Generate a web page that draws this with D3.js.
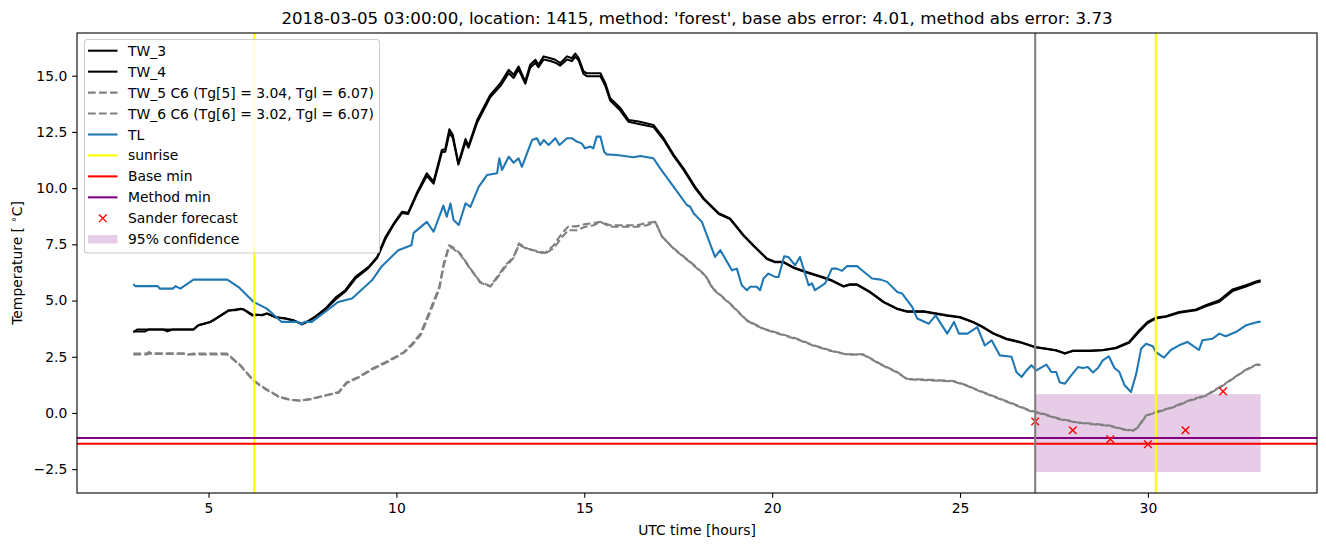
<!DOCTYPE html>
<html>
<head>
<meta charset="utf-8">
<script src="https://cdn.jsdelivr.net/npm/d3@7"></script>
<style>
  body { margin: 0; background: #fff; }
  svg text { font-family: "DejaVu Sans", sans-serif; }
</style>
</head>
<body>
<svg id="chart1" width="1326" height="547"></svg>
<script>
// [hour, temperature] pairs
let tw3 = [[3.0,3.6],[3.1,3.71],[4.6,3.71],[4.73,3.9],[5.05,4.05],[5.19,4.2],[5.54,4.57],[5.72,4.57],[5.85,4.64],[5.94,4.6],[6.16,4.34],[6.43,4.37],[6.56,4.42],[6.78,4.27],[7.05,4.2],[7.27,4.12],[7.49,3.94],[7.62,4.05],[7.85,4.3],[8.11,4.64],[8.38,5.13],[8.64,5.46],[8.91,6.05],[9.26,6.5],[9.49,6.94],[9.71,7.83],[9.93,8.43],[10.15,8.95],[10.31,8.9],[10.54,9.77],[10.81,10.66],[10.99,10.29],[11.21,11.7],[11.3,11.73],[11.41,12.62],[11.5,12.37],[11.65,11.1],[11.84,12.18],[11.92,11.88],[12.15,13.03],[12.5,14.15],[12.77,14.67],[12.99,15.26],[13.12,15.04],[13.25,15.41],[13.43,14.74],[13.56,15.49],[13.7,15.71],[13.78,15.49],[13.92,15.86],[14.1,15.78],[14.23,15.71],[14.36,15.56],[14.54,15.86],[14.67,15.78],[14.76,15.98],[14.85,15.78],[14.98,15.19],[15.07,15.11],[15.43,15.11],[15.56,14.67],[15.69,14.0],[15.96,13.56],[16.18,13.03],[16.45,12.96],[16.84,12.81],[17.11,12.22],[17.38,11.48],[17.64,10.88],[17.95,10.06],[18.18,9.54],[18.58,8.88],[18.88,8.65],[19.24,7.91],[19.5,7.46],[19.86,6.87],[20.08,6.72],[20.3,6.72],[20.57,6.47],[20.92,6.27],[21.28,6.08],[21.59,5.9],[21.9,5.64],[22.07,5.72],[22.26,5.72],[22.61,5.38],[22.97,4.94],[23.33,4.64],[23.59,4.52],[24.04,4.52],[24.3,4.45],[24.66,4.34],[25.0,4.27],[25.35,4.05],[25.62,3.82],[25.88,3.55],[26.24,3.3],[26.6,3.16],[27.0,2.93],[27.3,2.86],[27.56,2.79],[27.79,2.64],[28.0,2.77],[28.46,2.77],[28.8,2.8],[29.15,2.9],[29.5,3.16],[29.77,3.68],[29.99,4.05],[30.21,4.24],[30.48,4.3],[30.83,4.49],[31.28,4.6],[31.54,4.79],[31.9,5.01],[32.25,5.49],[32.61,5.68],[32.88,5.85],[33.0,5.9]];

let tw4 = [[3.0,3.62],[3.3,3.62],[3.4,3.71],[3.8,3.71],[3.9,3.63],[4.05,3.71],[4.6,3.71],[4.73,3.9],[5.05,4.05],[5.19,4.18],[5.54,4.55],[5.72,4.6],[5.85,4.62],[5.94,4.6],[6.16,4.38],[6.43,4.35],[6.56,4.42],[6.78,4.25],[7.05,4.2],[7.27,4.1],[7.49,3.97],[7.62,4.05],[7.85,4.28],[8.11,4.6],[8.38,5.05],[8.64,5.4],[8.91,5.98],[9.26,6.45],[9.49,6.9],[9.71,7.75],[9.93,8.38],[10.15,8.9],[10.31,8.85],[10.54,9.7],[10.81,10.55],[10.99,10.2],[11.21,11.6],[11.3,11.62],[11.41,12.45],[11.5,12.25],[11.65,11.05],[11.84,12.05],[11.92,11.8],[12.15,12.92],[12.5,14.05],[12.77,14.55],[12.99,15.12],[13.12,14.9],[13.25,15.28],[13.43,14.65],[13.56,15.36],[13.7,15.58],[13.78,15.38],[13.92,15.72],[14.1,15.65],[14.23,15.58],[14.36,15.45],[14.54,15.72],[14.67,15.65],[14.76,15.85],[14.85,15.68],[14.98,15.08],[15.07,14.98],[15.43,14.98],[15.56,14.55],[15.69,13.9],[15.96,13.45],[16.18,12.95],[16.45,12.85],[16.84,12.72],[17.11,12.15],[17.38,11.42],[17.64,10.82],[17.95,10.0],[18.18,9.5],[18.58,8.85],[18.88,8.62],[19.24,7.88],[19.5,7.44],[19.86,6.85],[20.08,6.7],[20.3,6.7],[20.57,6.45],[20.92,6.25],[21.28,6.06],[21.59,5.88],[21.9,5.62],[22.07,5.7],[22.26,5.7],[22.61,5.36],[22.97,4.92],[23.33,4.62],[23.59,4.5],[24.04,4.5],[24.3,4.43],[24.66,4.32],[25.0,4.25],[25.35,4.03],[25.62,3.8],[25.88,3.53],[26.24,3.28],[26.6,3.14],[27.0,2.92],[27.3,2.85],[27.56,2.78],[27.79,2.66],[28.0,2.76],[28.46,2.76],[28.8,2.79],[29.15,2.88],[29.5,3.12],[29.77,3.62],[29.99,4.0],[30.21,4.2],[30.48,4.28],[30.83,4.46],[31.28,4.57],[31.54,4.75],[31.9,4.95],[32.25,5.42],[32.61,5.62],[32.88,5.8],[33.0,5.85]];

let tw5 = [[3.0,2.64],[3.35,2.64],[3.41,2.71],[3.5,2.64],[4.4,2.64],[4.45,2.6],[4.6,2.64],[5.5,2.64],[5.85,2.12],[6.2,1.45],[6.52,1.08],[6.91,0.7],[7.22,0.59],[7.45,0.55],[7.76,0.64],[8.11,0.78],[8.46,0.93],[8.68,1.37],[8.99,1.6],[9.35,1.97],[9.71,2.26],[9.97,2.49],[10.2,2.71],[10.42,3.08],[10.64,3.53],[10.77,4.05],[10.95,4.8],[11.14,5.6],[11.26,6.65],[11.4,7.46],[11.48,7.4],[11.7,7.09],[11.97,6.42],[12.23,5.83],[12.5,5.64],[12.68,6.05],[12.9,6.57],[13.12,6.94],[13.26,7.54],[13.48,7.32],[13.74,7.17],[13.96,7.08],[14.18,7.32],[14.41,7.83],[14.58,8.13],[14.8,8.13],[15.03,8.28],[15.25,8.35],[15.43,8.5],[15.69,8.28],[16.05,8.28],[16.4,8.28],[16.67,8.35],[16.89,8.5],[17.07,7.83],[17.38,7.32],[17.82,6.72],[18.22,6.13],[18.43,5.53],[18.88,4.87],[19.33,4.12],[19.77,3.75],[20.21,3.53],[20.66,3.3],[21.1,3.01],[21.54,2.79],[21.99,2.61],[22.43,2.61],[22.87,2.19],[23.33,1.82],[23.59,1.52],[24.21,1.47],[24.47,1.45],[24.82,1.42],[25.18,1.23],[25.53,0.98],[25.97,0.7],[26.41,0.41],[26.86,0.11],[27.22,-0.04],[27.65,-0.26],[28.1,-0.41],[28.54,-0.48],[28.98,-0.56],[29.33,-0.71],[29.6,-0.78],[29.73,-0.63],[29.95,-0.11],[30.21,0.04],[30.66,0.26],[31.1,0.56],[31.54,0.78],[31.99,1.23],[32.34,1.63],[32.61,1.93],[32.88,2.15],[33.0,2.15]];

let tw6 = [[3.0,2.6],[3.35,2.6],[3.45,2.64],[4.4,2.64],[4.5,2.6],[5.5,2.6],[5.85,2.1],[6.2,1.42],[6.52,1.05],[6.91,0.68],[7.22,0.57],[7.45,0.55],[7.76,0.62],[8.11,0.78],[8.46,0.9],[8.68,1.33],[8.99,1.57],[9.35,1.93],[9.71,2.22],[9.97,2.45],[10.2,2.68],[10.42,3.02],[10.64,3.45],[10.77,3.95],[10.95,4.7],[11.14,5.5],[11.26,6.55],[11.4,7.38],[11.48,7.35],[11.7,7.05],[11.97,6.4],[12.23,5.8],[12.5,5.62],[12.68,6.0],[12.9,6.5],[13.12,6.9],[13.26,7.48],[13.48,7.3],[13.74,7.2],[13.96,7.12],[14.18,7.45],[14.41,8.0],[14.58,8.3],[14.8,8.3],[15.03,8.4],[15.25,8.45],[15.43,8.5],[15.69,8.35],[16.05,8.35],[16.4,8.35],[16.67,8.45],[16.89,8.5],[17.07,7.85],[17.38,7.3],[17.82,6.7],[18.22,6.1],[18.43,5.5],[18.88,4.85],[19.33,4.1],[19.77,3.73],[20.21,3.5],[20.66,3.28],[21.1,2.99],[21.54,2.77],[21.99,2.6],[22.43,2.59],[22.87,2.17],[23.33,1.8],[23.59,1.5],[24.21,1.45],[24.47,1.43],[24.82,1.4],[25.18,1.21],[25.53,0.96],[25.97,0.68],[26.41,0.39],[26.86,0.09],[27.22,-0.06],[27.65,-0.28],[28.1,-0.43],[28.54,-0.5],[28.98,-0.58],[29.33,-0.73],[29.6,-0.8],[29.73,-0.65],[29.95,-0.13],[30.21,0.02],[30.66,0.24],[31.1,0.54],[31.54,0.76],[31.99,1.21],[32.34,1.61],[32.61,1.91],[32.88,2.13],[33.0,2.13]];

let tl = [[3.0,5.73],[3.05,5.64],[3.65,5.64],[3.7,5.53],[4.05,5.53],[4.12,5.64],[4.25,5.53],[4.6,5.93],[5.5,5.93],[5.8,5.6],[6.2,4.94],[6.55,4.64],[6.95,4.05],[7.38,4.05],[7.48,3.93],[7.55,4.05],[7.75,4.05],[8.1,4.49],[8.45,4.94],[8.82,5.09],[9.35,5.9],[9.6,6.5],[10.05,7.24],[10.4,7.46],[10.46,8.01],[10.81,8.5],[10.99,8.06],[11.25,9.22],[11.34,8.73],[11.44,9.32],[11.52,8.58],[11.66,8.36],[11.84,9.32],[11.97,9.17],[12.19,10.06],[12.41,10.58],[12.68,10.66],[12.74,11.33],[12.81,10.81],[12.99,11.4],[13.12,11.13],[13.25,11.33],[13.34,10.95],[13.61,12.14],[13.74,12.22],[13.83,11.92],[13.92,12.14],[14.05,11.92],[14.23,12.22],[14.34,11.92],[14.54,12.22],[14.67,12.22],[14.8,12.07],[14.93,11.99],[15.02,11.77],[15.16,11.85],[15.24,11.77],[15.33,12.29],[15.43,12.29],[15.53,11.62],[15.6,11.5],[15.87,11.47],[16.31,11.37],[16.49,11.43],[16.84,11.33],[17.02,10.88],[17.38,10.06],[17.73,9.25],[17.82,9.17],[17.91,8.88],[18.13,8.5],[18.48,6.94],[18.62,7.24],[18.93,6.35],[19.06,6.42],[19.19,5.68],[19.33,5.46],[19.41,5.61],[19.59,5.61],[19.68,5.46],[19.77,5.98],[19.9,6.2],[20.08,6.05],[20.17,6.05],[20.32,6.97],[20.43,6.94],[20.61,6.57],[20.74,6.94],[20.97,5.68],[21.06,5.76],[21.14,5.46],[21.41,5.76],[21.59,6.42],[21.72,6.42],[21.86,6.32],[21.99,6.53],[22.26,6.53],[22.39,6.35],[22.66,5.98],[22.89,5.93],[23.06,5.83],[23.33,5.38],[23.46,5.31],[23.73,4.71],[23.86,4.2],[24.17,3.97],[24.35,4.34],[24.66,3.53],[24.84,4.05],[24.97,3.53],[25.2,3.53],[25.46,3.82],[25.66,3.0],[25.84,3.23],[26.06,2.56],[26.37,2.5],[26.5,1.82],[26.64,1.6],[26.77,1.89],[26.9,2.12],[27.03,1.89],[27.3,2.15],[27.43,1.82],[27.56,1.82],[27.65,1.37],[27.79,1.3],[27.96,1.67],[28.14,2.04],[28.27,2.0],[28.4,2.04],[28.54,1.8],[28.67,2.0],[28.8,2.34],[28.96,2.52],[29.11,2.0],[29.24,1.82],[29.38,1.23],[29.55,0.93],[29.69,1.75],[29.82,2.86],[29.95,3.08],[30.13,2.97],[30.21,2.71],[30.43,2.46],[30.61,2.8],[30.83,3.01],[31.05,3.16],[31.36,2.8],[31.45,3.23],[31.72,3.3],[31.9,3.53],[32.07,3.41],[32.34,3.6],[32.61,3.9],[32.92,4.05],[33.0,4.05]];

let sanderHours = [27, 28, 29, 30, 31, 32];
let sanderValues = [-0.38, -0.77, -1.17, -1.39, -0.77, 0.96];

let sunriseHours = [6.22, 30.21];
let forecastStart = 27.0;
let baseMin = -1.37;
let methodMin = -1.11;
let confidence = { from: 27.0, to: 33.0, low: -2.63, high: 0.84 };

let xTicks = [5, 10, 15, 20, 25, 30];
let yTicks = [-2.5, 0, 2.5, 5, 7.5, 10, 12.5, 15];

let titleText = "2018-03-05 03:00:00, location: 1415, method: 'forest', base abs error: 4.01, method abs error: 3.73";

let legendItems = [
  { label: "TW_3", kind: "line", color: "#000000" },
  { label: "TW_4", kind: "line", color: "#000000" },
  { label: "TW_5 C6 (Tg[5] = 3.04, Tgl = 6.07)", kind: "dash", color: "#808080" },
  { label: "TW_6 C6 (Tg[6] = 3.02, Tgl = 6.07)", kind: "dash", color: "#808080" },
  { label: "TL", kind: "line", color: "#1f77b4" },
  { label: "sunrise", kind: "line", color: "#ffff00" },
  { label: "Base min", kind: "line", color: "#ff0000" },
  { label: "Method min", kind: "line", color: "#800080" },
  { label: "Sander forecast", kind: "cross", color: "#ff0000" },
  { label: "95% confidence", kind: "patch", color: "#800080" }
];

let margin = { left: 77, right: 1317, top: 33, bottom: 493 };

let svg = d3.select("#chart1");
let xLinear = d3.scaleLinear().domain([1.5, 34.5]).range([margin.left, margin.right]);
let yLinear = d3.scaleLinear().domain([-3.56, 16.9]).range([margin.bottom, margin.top]);

svg.append("defs").append("clipPath").attr("id", "clip")
  .append("rect")
  .attr("x", margin.left).attr("y", margin.top)
  .attr("width", margin.right - margin.left).attr("height", margin.bottom - margin.top);

let plot = svg.append("g").attr("clip-path", "url(#clip)");

// confidence band
plot.append("rect")
  .attr("x", xLinear(confidence.from))
  .attr("y", yLinear(confidence.high))
  .attr("width", xLinear(confidence.to) - xLinear(confidence.from))
  .attr("height", yLinear(confidence.low) - yLinear(confidence.high))
  .attr("fill", "#800080").attr("fill-opacity", 0.2);

let line = d3.line().x(d => xLinear(d[0])).y(d => yLinear(d[1]));

function drawSeries(data, color, dashed) {
  plot.append("path")
    .datum(data)
    .attr("d", line)
    .attr("fill", "none")
    .attr("stroke", color)
    .attr("stroke-width", 2.08)
    .attr("stroke-linejoin", "round")
    .attr("stroke-dasharray", dashed ? "7.7,3.3" : null);
}
drawSeries(tw3, "#000000", false);
drawSeries(tw4, "#000000", false);
drawSeries(tw5, "#808080", true);
drawSeries(tw6, "#808080", true);
drawSeries(tl, "#1f77b4", false);

// sunrise lines
plot.selectAll(".sunrise").data(sunriseHours).enter().append("line")
  .attr("x1", d => xLinear(d)).attr("x2", d => xLinear(d))
  .attr("y1", margin.top).attr("y2", margin.bottom)
  .attr("stroke", "#ffff00").attr("stroke-width", 2.08);

// base / method min
plot.append("line")
  .attr("x1", margin.left).attr("x2", margin.right)
  .attr("y1", yLinear(baseMin)).attr("y2", yLinear(baseMin))
  .attr("stroke", "#ff0000").attr("stroke-width", 2.08);
plot.append("line")
  .attr("x1", margin.left).attr("x2", margin.right)
  .attr("y1", yLinear(methodMin)).attr("y2", yLinear(methodMin))
  .attr("stroke", "#800080").attr("stroke-width", 2.08);

// sander forecast crosses
let cross = d3.symbol().type(d3.symbolX).size(40);
plot.selectAll(".sander").data(sanderHours).enter().append("path")
  .attr("d", cross)
  .attr("transform", (d, i) => "translate(" + xLinear(d) + "," + yLinear(sanderValues[i]) + ")")
  .attr("fill", "none").attr("stroke", "#ff0000").attr("stroke-width", 1.4);

// forecast start
plot.append("line")
  .attr("x1", xLinear(forecastStart)).attr("x2", xLinear(forecastStart))
  .attr("y1", margin.top).attr("y2", margin.bottom)
  .attr("stroke", "#808080").attr("stroke-width", 2.08);

// axes
let xAxis = d3.axisBottom(xLinear).tickValues(xTicks).tickSize(4.86).tickPadding(4.86).tickFormat(d3.format("d"));
let xAxisG = svg.append("g")
  .attr("transform", "translate(0," + margin.bottom + ")")
  .call(xAxis);
let yAxis = d3.axisLeft(yLinear).tickValues(yTicks).tickSize(4.86).tickPadding(4.86).tickFormat(d3.format(".1f"));
let yAxisG = svg.append("g")
  .attr("transform", "translate(" + margin.left + ",0)")
  .call(yAxis);
[xAxisG, yAxisG].forEach(g => {
  g.select(".domain").remove();
  g.selectAll(".tick line").attr("stroke", "#000").attr("stroke-width", 1.1);
  g.selectAll(".tick text").attr("fill", "#000").style("font-size", "13.9px").style("font-family", "DejaVu Sans");
});

svg.append("rect")
  .attr("x", margin.left).attr("y", margin.top)
  .attr("width", margin.right - margin.left).attr("height", margin.bottom - margin.top)
  .attr("fill", "none").attr("stroke", "#000").attr("stroke-width", 1.1);

// titles
svg.append("text")
  .attr("x", (margin.left + margin.right) / 2).attr("y", 24)
  .style("text-anchor", "middle").style("font-size", "16.67px")
  .text(titleText);

svg.append("text")
  .attr("x", (margin.left + margin.right) / 2).attr("y", 535)
  .style("text-anchor", "middle").style("font-size", "13.9px")
  .text("UTC time [hours]");

let yTitle = svg.append("text")
  .attr("transform", "translate(22," + (margin.top + margin.bottom) / 2 + ") rotate(-90)")
  .style("text-anchor", "middle").style("font-size", "13.9px");
yTitle.append("tspan").text("Temperature [ ");
yTitle.append("tspan").attr("dy", -5).style("font-size", "10px").text("∘");
yTitle.append("tspan").attr("dy", 5).text("C]");

// legend
let legend = svg.append("g");
legend.append("rect")
  .attr("x", 84.5).attr("y", 39.5).attr("width", 295).attr("height", 213.5)
  .attr("rx", 3).attr("fill", "#fff").attr("fill-opacity", 0.8)
  .attr("stroke", "#cccccc").attr("stroke-width", 1.1);

legendItems.forEach((item, i) => {
  let cy = 50.7 + i * 20.95;
  let g = legend.append("g");
  if (item.kind == "line" || item.kind == "dash") {
    g.append("line")
      .attr("x1", 88).attr("x2", 117.5).attr("y1", cy).attr("y2", cy)
      .attr("stroke", item.color).attr("stroke-width", 2.08)
      .attr("stroke-dasharray", item.kind == "dash" ? "7.7,3.3" : null);
  } else if (item.kind == "cross") {
    g.append("path").attr("d", cross)
      .attr("transform", "translate(102.8," + cy + ")")
      .attr("fill", "none").attr("stroke", item.color).attr("stroke-width", 1.4);
  } else {
    g.append("rect")
      .attr("x", 88).attr("y", cy - 4.2).attr("width", 29.5).attr("height", 8.4)
      .attr("fill", item.color).attr("fill-opacity", 0.2);
  }
  g.append("text")
    .attr("x", 128).attr("y", cy + 5)
    .style("font-size", "13.9px")
    .text(item.label);
});
</script>
</body>
</html>
